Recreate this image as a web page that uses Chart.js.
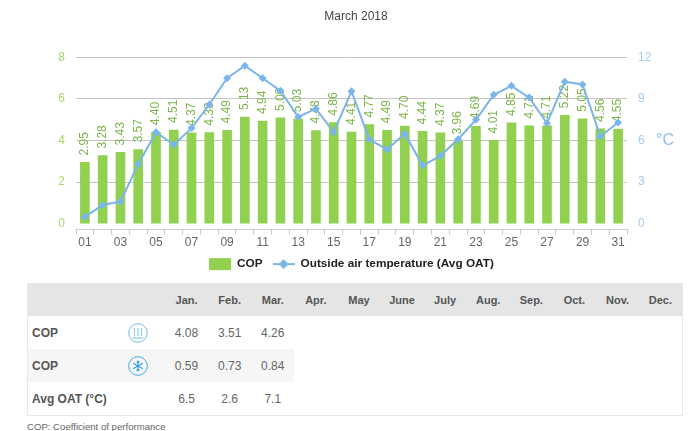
<!DOCTYPE html>
<html>
<head>
<meta charset="utf-8">
<title>March 2018</title>
<script src="https://cdn.jsdelivr.net/npm/chart.js@4"></script>
<style>
  html, body { margin: 0; padding: 0; background: #fff; overflow: hidden; }
  body { width: 693px; height: 431px; position: relative; font-family: "Liberation Sans", Arial, sans-serif; }
  #chartBox { position: absolute; left: 0; top: 0; width: 693px; height: 280px; }
  table { position: absolute; left: 27px; top: 283px; width: 655px; height: 133px; border-collapse: collapse; table-layout: fixed; border: 1px solid #e8e8e8; border-top: 0; color: #666; font-size: 12px; }
  th { background: #e5e5e5; color: #555; font-size: 11px; font-weight: bold; height: 33px; padding: 0; text-align: center; }
  td { padding: 0; height: 33px; text-align: center; }
  td.name { text-align: left; padding-left: 4px; font-weight: bold; color: #555; white-space: nowrap; }
  td.icon svg { display: block; margin: 0 auto; }
  tr.shade td { background: #f6f6f6; }
  tr.shade td.blank { background: #fff; }
  #note { position: absolute; left: 27px; top: 421px; font-size: 9.6px; color: #666; }
</style>
</head>
<body>
<div id="chartBox"><canvas id="cop"></canvas></div>
<table id="summary"></table>
<div id="note">COP: Coefficient of performance</div>
<script>
(() => {
  'use strict'

  const days = ['01','02','03','04','05','06','07','08','09','10','11','12','13','14','15','16','17','18','19','20','21','22','23','24','25','26','27','28','29','30','31']
  const cop = [2.95,3.28,3.43,3.57,4.40,4.51,4.37,4.38,4.49,5.13,4.94,5.09,5.03,4.48,4.86,4.41,4.77,4.49,4.70,4.44,4.37,3.96,4.69,4.01,4.85,4.71,4.71,5.22,5.05,4.56,4.55]
  const oat = [0.5,1.35,1.6,4.3,6.6,5.7,6.9,8.6,10.5,11.4,10.5,9.6,7.7,8.3,6.6,9.55,6.1,5.35,6.5,4.2,4.9,6.1,7.5,9.3,9.95,9.1,7.25,10.25,10.05,6.3,7.3]
  const leftTicks = [0,2,4,6,8]
  const rightTicks = [0,3,6,9,12]

  const months = ['Jan.','Feb.','Mar.','Apr.','May','June','July','Aug.','Sep.','Oct.','Nov.','Dec.']
  const copHeating = ['4.08','3.51','4.26']
  const copCooling = ['0.59','0.73','0.84']
  const avgOat = ['6.5','2.6','7.1']

  const green = '#92d050'
  const blue = '#7cb5ec'
  const font = '"Liberation Sans", Arial, sans-serif'

  // legend swatches: both are small canvases so they line up the same way
  function swatch(draw) {
    const c = document.createElement('canvas')
    c.width = 22
    c.height = 14
    draw(c.getContext('2d'))
    return c
  }
  const barSwatch = swatch(g => {
    g.fillStyle = green
    g.fillRect(0, 1, 22, 12)
  })
  const lineSwatch = swatch(g => {
    g.strokeStyle = blue
    g.fillStyle = blue
    g.lineWidth = 2
    g.beginPath()
    g.moveTo(0, 7)
    g.lineTo(22, 7)
    g.stroke()
    g.beginPath()
    g.moveTo(11, 2)
    g.lineTo(16, 7)
    g.lineTo(11, 12)
    g.lineTo(6, 7)
    g.closePath()
    g.fill()
  })

  // rotated value labels, drawn right after the bars so the line stays on top
  const barLabels = {
    id: 'barLabels',
    afterDatasetDraw(chart, args) {
      if (args.index !== 0) return
      const g = chart.ctx
      g.save()
      g.font = '12px ' + font
      g.fillStyle = '#7db54a'
      g.textAlign = 'left'
      g.textBaseline = 'middle'
      args.meta.data.forEach((bar, i) => {
        g.save()
        g.translate(bar.x, bar.y - 7)
        g.rotate(-Math.PI / 2)
        g.fillText(cop[i].toFixed(2), 0, 0)
        g.restore()
      })
      g.restore()
    }
  }

  const unitLabel = {
    id: 'unitLabel',
    afterDraw(chart) {
      const g = chart.ctx
      const s = chart.scales.yTemp
      g.save()
      g.font = '16px ' + font
      g.fillStyle = '#8fc0f0'
      g.textAlign = 'left'
      g.textBaseline = 'middle'
      g.fillText('°C', 656, s.getPixelForValue(6))
      g.restore()
    }
  }

  new Chart(document.getElementById('cop'), {
    type: 'bar',
    data: {
      labels: days,
      datasets: [
        {
          label: 'COP',
          data: cop,
          yAxisID: 'yCop',
          backgroundColor: green,
          barThickness: 9,
          order: 2
        },
        {
          type: 'line',
          label: 'Outside air temperature (Avg OAT)',
          data: oat,
          yAxisID: 'yTemp',
          borderColor: blue,
          backgroundColor: blue,
          borderWidth: 2,
          pointStyle: 'rectRot',
          pointRadius: 4,
          pointHoverRadius: 4,
          pointBorderWidth: 0,
          tension: 0,
          order: 1
        }
      ]
    },
    options: {
      responsive: true,
      maintainAspectRatio: false,
      animation: false,
      layout: { padding: { left: 19, right: 0, top: 0, bottom: 0 } },
      plugins: {
        tooltip: { enabled: false },
        title: {
          display: true,
          text: 'March 2018',
          color: '#444',
          font: { family: font, size: 12, weight: 'normal' },
          padding: { top: 9, bottom: 34 }
        },
        legend: {
          position: 'bottom',
          fullSize: false,
          labels: {
            color: '#222',
            font: { family: font, size: 11.8, weight: 'bold' },
            boxWidth: 22,
            usePointStyle: true,
            pointStyleWidth: 22,
            padding: 10,
            generateLabels(chart) {
              return chart.data.datasets.map((d, i) => ({
                text: d.label,
                fontColor: '#222',
                datasetIndex: i,
                pointStyle: d.type === 'line' ? lineSwatch : barSwatch,
                lineWidth: 0
              }))
            }
          }
        }
      },
      scales: {
        x: {
          offset: true,
          border: { color: '#ccc' },
          grid: { drawOnChartArea: false, color: '#ccc', tickLength: 5, offset: true },
          afterFit(s) { s.height -= 3 },
          ticks: {
            color: '#666',
            font: { family: font, size: 12 },
            autoSkip: false,
            maxRotation: 0,
            padding: 1,
            callback(v, i) { return i % 2 === 0 ? days[i] : '' }
          }
        },
        yCop: {
          position: 'left',
          min: -0.29,
          max: 8,
          afterBuildTicks(s) { s.ticks = leftTicks.map(value => ({ value })) },
          afterFit(s) { s.width = 57 },
          border: { display: false },
          grid: {
            drawTicks: false,
            color: c => (c.tick && c.tick.value === 0 ? 'rgba(0,0,0,0)' : '#c4c4c4')
          },
          ticks: {
            color: '#a5d86a',
            font: { family: font, size: 12 },
            padding: 11
          }
        },
        yTemp: {
          position: 'right',
          min: -0.435,
          max: 12,
          afterBuildTicks(s) { s.ticks = rightTicks.map(value => ({ value })) },
          afterFit(s) { s.width = 66 },
          border: { display: false },
          grid: { display: false, drawTicks: false },
          ticks: {
            color: '#a3cdf5',
            font: { family: font, size: 12 },
            padding: 11
          }
        }
      }
    },
    plugins: [barLabels, unitLabel]
  })

  // summary table under the chart
  const heatIcon = '<svg width="20" height="20" viewBox="0 0 20 20" fill="none" stroke="#5bb8e8" stroke-width="0.9"><circle cx="10" cy="10" r="9.3"/><path d="M6.5 5c-1 1.5 1 3 0 4.5s1 2 0 3.5M10 5c-1 1.5 1 3 0 4.5s1 2 0 3.5M13.5 5c-1 1.5 1 3 0 4.5s1 2 0 3.5M4.5 15h11"/></svg>'
  const coolIcon = '<svg width="20" height="20" viewBox="0 0 20 20" fill="none" stroke="#2f9fdc" stroke-width="1.1"><circle cx="10" cy="10" r="9.3" stroke-width="0.9"/><path d="M10 4.5v11M5.2 7.2l9.6 5.6M14.8 7.2l-9.6 5.6M8.6 5.6L10 7l1.4-1.4M8.6 14.4L10 13l1.4 1.4"/></svg>'

  function cells(values) {
    return months.map((m, i) => '<td>' + (values[i] || '') + '</td>').join('')
  }

  function shadedCells(values) {
    return months.map((m, i) => (i < values.length ? '<td>' + values[i] + '</td>' : '<td class="blank"></td>')).join('')
  }

  document.getElementById('summary').innerHTML =
    '<colgroup><col style="width:84px"><col style="width:53.5px">' + months.map(() => '<col style="width:43.1px">').join('') + '</colgroup>' +
    '<tr><th></th><th></th>' + months.map(m => '<th>' + m + '</th>').join('') + '</tr>' +
    '<tr><td class="name">COP</td><td class="icon">' + heatIcon + '</td>' + cells(copHeating) + '</tr>' +
    '<tr class="shade"><td class="name">COP</td><td class="icon">' + coolIcon + '</td>' + shadedCells(copCooling) + '</tr>' +
    '<tr><td class="name">Avg OAT (°C)</td><td></td>' + cells(avgOat) + '</tr>'
})()
</script>
</body>
</html>
